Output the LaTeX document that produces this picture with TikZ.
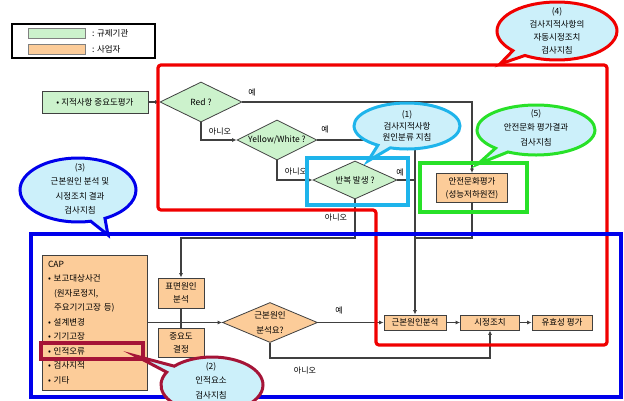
\documentclass[tikz,border=0pt]{standalone}
\usepackage{fontspec}
\setmainfont{Noto Sans CJK KR}
\usetikzlibrary{shapes.geometric,shapes.callouts,arrows.meta}
\definecolor{gfill}{RGB}{204,242,204}
\definecolor{ofill}{RGB}{252,204,153}
\definecolor{cfill}{RGB}{204,240,250}
\definecolor{linec}{RGB}{64,64,64}
\definecolor{redf}{RGB}{240,0,0}
\definecolor{bluef}{RGB}{0,0,235}
\definecolor{cyanf}{RGB}{30,180,235}
\definecolor{greenf}{RGB}{40,225,40}
\definecolor{dredf}{RGB}{165,20,55}
\begin{document}
\begin{tikzpicture}[x=1pt,y=-1pt,
  base/.style={font=\fontsize{8.5}{10}\selectfont},
  gbox/.style={base,draw=linec,fill=gfill,line width=0.8pt,inner sep=0pt},
  obox/.style={draw=linec,fill=ofill,line width=0.8pt,inner sep=0pt,align=center,font=\fontsize{8.5}{13}\selectfont},
  gdia/.style={base,diamond,aspect=2,draw=linec,fill=gfill,line width=0.8pt,inner sep=0pt},
  odia/.style={gdia,fill=ofill,align=center},
  conn/.style={draw=linec,line width=1.2pt},
  arr/.style={conn,-{Latex[length=4.5pt,width=4pt]}},
  lbl/.style={font=\fontsize{8}{9}\selectfont,inner sep=0pt},
  bubble/.style={ellipse callout,fill=cfill,line width=3pt,inner sep=0pt},
  btext/.style={font=\fontsize{8.5}{14.5}\selectfont,align=center,inner sep=0pt},
  frame/.style={line width=3.2pt}
]
\useasboundingbox (0,0) rectangle (624,400);

% nodes
\node[gbox,minimum width=106,minimum height=22] (eval) at (95,102) {• 지적사항 중요도평가};
\node[gdia,minimum width=82,minimum height=40] (red) at (201,102) {Red ?};
\node[gdia,minimum width=80,minimum height=40] (yw) at (277,140) {Yellow/White ?};
\node[gdia,minimum width=84,minimum height=38] (rep) at (355,180) {반복 발생 ?};
\node[obox,minimum width=71,minimum height=29] (safe) at (472,188) {안전문화평가\\(성능저하원전)};
\node[obox,minimum width=105,minimum height=135,text width=93,align=left,font=\fontsize{8.5}{14.5}\selectfont] (cap) at (94.5,322.5) {CAP\\• 보고대상사건\\\hspace*{6pt}(원자로정지,\\\hspace*{6pt}주요기기고장 등)\\• 설계변경\\• 기기고장\\• 인적오류\\• 검사지적\\• 기타};
\node[obox,minimum width=46,minimum height=30] (surf) at (181,293) {표면원인\\분석};
\node[obox,minimum width=46,minimum height=29] (imp) at (181,342.5) {중요도\\결정};
\node[odia,minimum width=95,minimum height=40,font=\fontsize{8.5}{15}\selectfont] (dq) at (270,322.5) {근본원인\\분석요?};
\node[obox,minimum width=62,minimum height=15] (rca) at (415,322.5) {근본원인분석};
\node[obox,minimum width=59,minimum height=15] (fix) at (490,322.5) {시정조치};
\node[obox,minimum width=60,minimum height=15] (eff) at (562,322.5) {유효성 평가};

\coordinate (j1) at (181,238);
\coordinate (j2) at (415,238);
\coordinate (j3) at (270,358);

% connectors
\draw[arr] (eval) -- (red);
\draw[arr] (red.east) -| (safe.north);
\draw[arr] (red.south) |- (yw.west);
\draw[arr] (yw.east) -| (rca.north);
\draw[conn] (rep.east) -- (rep.east -| rca.north);
\draw[arr] (yw.south) |- (rep.west);
\draw[arr] (rep.south) |- (j1) -- (surf.north);
\draw[conn] (safe.south) |- (j2);
\draw[conn] (surf) -- (imp);
\draw[arr] (cap.east |- dq.west) -- (dq.west);
\draw[arr] (dq.east) -- (rca.west);
\draw[arr] (rca) -- (fix);
\draw[arr] (fix) -- (eff);
\draw[arr] (dq.south) -- (j3) -| (fix.south);

% labels
\node[lbl] (l1) at (252,92) {예};
\node[lbl] (l2) at (220,131) {아니오};
\node[lbl] (l3) at (325,129) {예};
\node[lbl] (l4) at (296,171) {아니오};
\node[lbl] (l5) at (400,172) {예};
\node[lbl] (l6) at (336,217) {아니오};
\node[lbl] (l7) at (339,310) {예};
\node[lbl] (l8) at (305,370) {아니오};

% frames
\draw[frame,draw=redf,rounded corners=3pt] (158,65) -- (607,65) -- (607,345) -- (376,345) -- (376,210) -- (158,210) -- cycle;
\draw[frame,draw=bluef] (31,234) rectangle (621,397);
\draw[frame,draw=cyanf] (307,158) rectangle (408,205);
\draw[frame,draw=greenf] (420,163) rectangle (527,212);
\draw[frame,draw=dredf] (41,343) rectangle (143,359);

% callouts
\coordinate (p4) at (500,64);
\node[bubble,draw=redf,minimum width=120,minimum height=58,callout absolute pointer={(p4)}] (c4) at (557,31) {};
\node[btext,font=\fontsize{8.5}{13}\selectfont] (t4) at (557,31) {(4)\\검사지적사항의\\자동시정조치\\검사지침};

\coordinate (p3) at (108,235);
\node[bubble,draw=bluef,minimum width=116,minimum height=64,callout absolute pointer={(p3)}] (c3) at (78,190) {};
\node[btext] (t3) at (80,189) {(3)\\근본원인 분석 및\\시정조치 결과\\검사지침};

\coordinate (p1) at (368,161);
\node[bubble,draw=cyanf,minimum width=106,minimum height=46,callout absolute pointer={(p1)}] (c1) at (407,126) {};
\node[btext,font=\fontsize{8.5}{11.5}\selectfont] (t1) at (407,126) {(1)\\검사지적사항\\원인분류 지침};

\coordinate (p5) at (478,164);
\node[bubble,draw=greenf,minimum width=118,minimum height=50,callout absolute pointer={(p5)}] (c5) at (536,130) {};
\node[btext] (t5) at (536,127.5) {(5)\\안전문화 평가결과\\검사지침};

\coordinate (p2) at (136,356);
\node[bubble,draw=dredf,minimum width=102,minimum height=56,callout absolute pointer={(p2)}] (c2) at (212,385) {};
\node[btext] (t2) at (211,380.5) {(2)\\인적요소\\검사지침};

% legend
\node[draw=black,line width=1.2pt,minimum width=143,minimum height=34,inner sep=0pt] (leg) at (83.5,41) {};
\node[draw=gray,fill=gfill,minimum width=57,minimum height=10,inner sep=0pt] (sw1) at (56.5,33) {};
\node[draw=gray,fill=ofill,minimum width=57,minimum height=10,inner sep=0pt] (sw2) at (56.5,49) {};
\node[base,anchor=west,inner sep=0pt] (lt1) at (92,33) {: 규제기관};
\node[base,anchor=west,inner sep=0pt] (lt2) at (92,49) {: 사업자};
\end{tikzpicture}
\end{document}
